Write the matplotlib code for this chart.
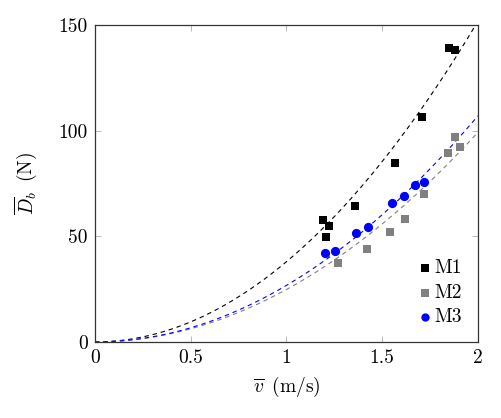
import numpy as np
import matplotlib
matplotlib.use('Agg')
import matplotlib.pyplot as plt
from matplotlib.ticker import FuncFormatter

plt.rcParams['font.family'] = 'serif'
plt.rcParams['font.serif'] = ['cmr10', 'DejaVu Serif']
plt.rcParams['mathtext.fontset'] = 'cm'
plt.rcParams['axes.formatter.use_mathtext'] = True

# measured points (v in m/s, D in N)
v_m1 = [1.19, 1.225, 1.205, 1.36, 1.568, 1.709, 1.848, 1.878]
d_m1 = [57.8, 55.1, 49.6, 64.3, 84.9, 106.5, 139.3, 138.4]
v_m2 = [1.27, 1.42, 1.542, 1.617, 1.716, 1.843, 1.883, 1.904]
d_m2 = [37.3, 44.0, 52.0, 58.3, 70.1, 89.5, 96.9, 92.5]
v_m3 = [1.202, 1.253, 1.364, 1.427, 1.549, 1.613, 1.674, 1.721]
d_m3 = [42.1, 43.0, 51.4, 54.2, 65.9, 69.0, 74.4, 75.9]

labels = ['M1', 'M2', 'M3']
colors = ['black', 'gray', 'blue']
markers = ['s', 's', 'o']
sizes = [36, 36, 44]

fig = plt.figure(figsize=(5.02, 4.18), dpi=100)
ax = fig.add_axes([0.189, 0.182, 0.763, 0.758])

vv = np.linspace(0, 2, 200)
for v, d, lab, c, m, s in zip([v_m1, v_m2, v_m3], [d_m1, d_m2, d_m3],
                              labels, colors, markers, sizes):
    v = np.array(v)
    d = np.array(d)
    # least squares fit D = a v^2
    a = np.sum(d * v**2) / np.sum(v**4)
    ax.plot(vv, a * vv**2, '--', color=c, lw=0.8, dashes=(4, 3.5))
    ax.scatter(v, d, marker=m, s=s, color=c, label=lab, zorder=3, linewidths=0)

ax.set_xlim(0, 2)
ax.set_ylim(0, 150)
ax.set_xticks([0, 0.5, 1, 1.5, 2])
ax.set_yticks([0, 50, 100, 150])
ax.xaxis.set_major_formatter(FuncFormatter(lambda x, p: '%g' % x))
ax.yaxis.set_major_formatter(FuncFormatter(lambda x, p: '%g' % x))
ax.tick_params(direction='in', top=True, right=True, length=4, width=0.6,
               color='#b0b0b0', labelsize=14, labelcolor='black', pad=5)
for sp in ax.spines.values():
    sp.set_linewidth(0.9)
    sp.set_color('#333333')

ax.set_xlabel(r'$\overline{v}\,$ (m/s)', fontsize=14, labelpad=6)
ax.set_ylabel(r'$\overline{D}_b\,$ (N)', fontsize=14, labelpad=14)

ax.legend(loc='lower right', frameon=False, fontsize=14, handletextpad=0.0,
          handlelength=1.0, labelspacing=0.35, borderaxespad=0.4,
          markerscale=0.9)

fig.savefig('out.png', dpi=100)
